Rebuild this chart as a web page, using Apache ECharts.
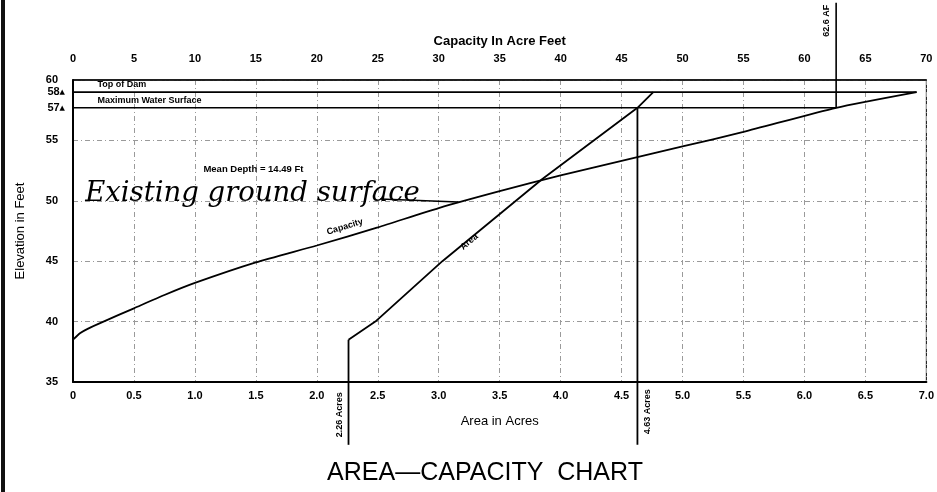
<!DOCTYPE html>
<html><head><meta charset="utf-8">
<script src="https://cdn.jsdelivr.net/npm/echarts@6/dist/echarts.min.js"></script>
<style>html,body{margin:0;padding:0;background:#fff}#c{width:937px;height:492px}</style>
</head><body><div id="c"></div>
<script>
// ---- data ----
const capacityAF   = [0, 0.6, 1.2, 2.5, 5, 7.5, 10, 15, 20, 25, 30, 35, 40, 45, 50, 55, 62.6, 69.2];
const capacityElev = [38.5, 39.05, 39.4, 40.0, 41.1, 42.2, 43.2, 44.9, 46.3, 47.8, 49.4, 50.8, 52.1, 53.3, 54.5, 55.7, 57.7, 59.0];
const areaAcres    = [2.26, 2.48, 3.03, 3.85, 4.63, 4.76];
const areaElev     = [38.5, 40.0, 45.0, 51.8, 57.7, 59.0];
const topOfDamElev = 59.0;
const maxWaterElev = 57.7;
const maxCapacityAF = 62.6;
const minAreaAcres = 2.26;
const maxAreaAcres = 4.63;
const bottomElev = 38.5;
const meanDepthFt = 14.49;
// leader line extents (beyond the plot frame)
const leaderTopElev = 66.4;
const leaderBottomElev = 29.8;
// axes
const areaMin = 0, areaMax = 7, areaStep = 0.5;
const capMin = 0, capMax = 70, capStep = 5;
const elevMin = 35, elevMax = 60, elevStep = 5;

const FONT = '"Liberation Sans", Arial, sans-serif';
const zip = (a, b) => a.map((v, i) => [v, b[i]]);
const grid = {color: '#9a9a9a', width: 1, type: [5, 3, 1, 3]};
const blk = (w) => ({color: '#000', width: w});

const chart = echarts.init(document.getElementById('c'), null, {renderer: 'canvas'});
const option = {
  backgroundColor: '#fff',
  animation: false,
  grid: {left: 73, right: 10, top: 80, bottom: 110, show: true, borderColor: '#000', borderWidth: 1},
  xAxis: [
    {type: 'value', position: 'bottom', min: areaMin, max: areaMax, interval: areaStep,
     name: 'Area in Acres', nameLocation: 'middle', nameGap: 33,
     nameTextStyle: {fontFamily: FONT, fontSize: 13, color: '#000'},
     axisLine: {lineStyle: blk(2)}, axisTick: {show: false},
     axisLabel: {margin: 8, fontFamily: FONT, fontSize: 11, fontWeight: 'bold', color: '#000',
       formatter: v => v === 0 ? '0' : v.toFixed(1)},
     splitLine: {show: true, lineStyle: grid}},
    {type: 'value', position: 'top', min: capMin, max: capMax, interval: capStep,
     name: 'Capacity In Acre Feet', nameLocation: 'middle', nameGap: 32,
     nameTextStyle: {fontFamily: FONT, fontSize: 13, fontWeight: 'bold', color: '#000'},
     axisLine: {lineStyle: blk(1.5)}, axisTick: {show: false},
     axisLabel: {margin: 16, fontFamily: FONT, fontSize: 11, fontWeight: 'bold', color: '#000'},
     splitLine: {show: false}}
  ],
  yAxis: {type: 'value', min: elevMin, max: elevMax, interval: elevStep,
    name: 'Elevation in Feet', nameLocation: 'middle', nameGap: 46, nameRotate: 90,
    nameTextStyle: {fontFamily: FONT, fontSize: 13, color: '#000'},
    axisLine: {show: true, lineStyle: blk(2)}, axisTick: {show: false},
    axisLabel: {margin: 15, fontFamily: FONT, fontSize: 11, fontWeight: 'bold', color: '#000'},
    splitLine: {show: true, lineStyle: grid}},
  series: [
    {name: 'Capacity', type: 'line', xAxisIndex: 1, data: zip(capacityAF, capacityElev),
     smooth: 0.2, symbol: 'none', lineStyle: blk(1.8), z: 5},
    {name: 'Area', type: 'line', xAxisIndex: 0, data: zip(areaAcres, areaElev),
     symbol: 'none', lineStyle: blk(1.8), z: 5},
    {name: 'Top of Dam', type: 'line', xAxisIndex: 1,
     data: [[capMin, topOfDamElev], [capacityAF[capacityAF.length - 1], topOfDamElev]],
     symbol: 'none', lineStyle: blk(1.6), z: 4},
    {name: 'Max WS', type: 'line', xAxisIndex: 1,
     data: [[capMin, maxWaterElev], [maxCapacityAF, maxWaterElev]],
     symbol: 'none', lineStyle: blk(1.6), z: 4},
    {name: 'cap leader', type: 'line', xAxisIndex: 1, clip: false,
     data: [[maxCapacityAF, maxWaterElev], [maxCapacityAF, leaderTopElev]],
     symbol: 'none', lineStyle: blk(1.6), z: 4},
    {name: 'min area leader', type: 'line', xAxisIndex: 0, clip: false,
     data: [[minAreaAcres, bottomElev], [minAreaAcres, leaderBottomElev]],
     symbol: 'none', lineStyle: blk(1.8), z: 4},
    {name: 'max area leader', type: 'line', xAxisIndex: 0, clip: false,
     data: [[maxAreaAcres, maxWaterElev], [maxAreaAcres, leaderBottomElev]],
     symbol: 'none', lineStyle: blk(1.8), z: 4}
  ]
};
chart.setOption(option);

const P = (x, y) => chart.convertToPixel({xAxisIndex: 0, yAxisIndex: 0}, [x, y]);
const PC = (x, y) => chart.convertToPixel({xAxisIndex: 1, yAxisIndex: 0}, [x, y]);
const txt = (x, y, text, opts = {}) => ({
  type: 'text', x, y, rotation: (opts.rot || 0) * Math.PI / 180, z: 20,
  style: {text, fill: '#000', fontFamily: opts.family || FONT, fontSize: opts.size || 9,
    fontWeight: opts.weight || 'bold', fontStyle: opts.style || 'normal',
    align: opts.align || 'center', verticalAlign: opts.va || 'middle'}
});
const g = [];
g.push({type: 'rect', shape: {x: 1, y: 0, width: 4, height: 492}, style: {fill: '#111'}, z: 30});
g.push(txt(485, 473, 'AREA\u2014CAPACITY  CHART', {size: 25, weight: 'normal'}));
let p;
p = P(0.2, 59.6);  g.push(txt(p[0], p[1], 'Top of Dam', {align: 'left'}));
p = P(0.2, 58.3);  g.push(txt(p[0], p[1], 'Maximum Water Surface', {align: 'left'}));
p = P(1.48, 52.6); g.push(txt(p[0], p[1], 'Mean Depth = ' + meanDepthFt.toFixed(2) + ' Ft', {size: 9.5}));
p = P(2.23, 47.85); g.push(txt(p[0], p[1], 'Capacity', {rot: 17}));
p = P(3.25, 46.6); g.push(txt(p[0], p[1], 'Area', {rot: 40}));
p = P(0.1, 50.55);  g.push(txt(p[0], p[1], 'Existing ground surface',
  {align: 'left', size: 27.5, weight: 'normal', style: 'italic', family: '"DejaVu Serif", serif'}));
const u1 = P(2.52, 50.15), u2 = P(3.16, 49.9);
g.push({type: 'line', shape: {x1: u1[0], y1: u1[1], x2: u2[0], y2: u2[1]}, style: {stroke: '#000', lineWidth: 1.3}, z: 20});
p = PC(maxCapacityAF, leaderTopElev); g.push(txt(p[0] - 10, p[1] + 18, maxCapacityAF.toFixed(1) + ' AF', {rot: 90}));
p = P(minAreaAcres, leaderBottomElev); g.push(txt(p[0] - 9, p[1] - 30, minAreaAcres.toFixed(2) + ' Acres', {rot: 90}));
p = P(maxAreaAcres, leaderBottomElev); g.push(txt(p[0] + 10, p[1] - 33, maxAreaAcres.toFixed(2) + ' Acres', {rot: 90}));
const y0 = P(0, topOfDamElev), y1 = P(0, maxWaterElev);
const rich = {n: {fontFamily: FONT, fontSize: 11, fontWeight: 'bold', fill: '#000'}, t: {fontSize: 7, fill: '#000', fontFamily: 'DejaVu Sans'}};
g.push({type: 'text', x: y0[0] - 8, y: y0[1], z: 20, style: {
  text: '{n|58}{t|\u25B2}', align: 'right', verticalAlign: 'middle', rich}});
g.push({type: 'text', x: y1[0] - 8, y: y1[1], z: 20, style: {
  text: '{n|57}{t|\u25B2}', align: 'right', verticalAlign: 'middle', rich}});
chart.setOption({graphic: g});
</script></body></html>
